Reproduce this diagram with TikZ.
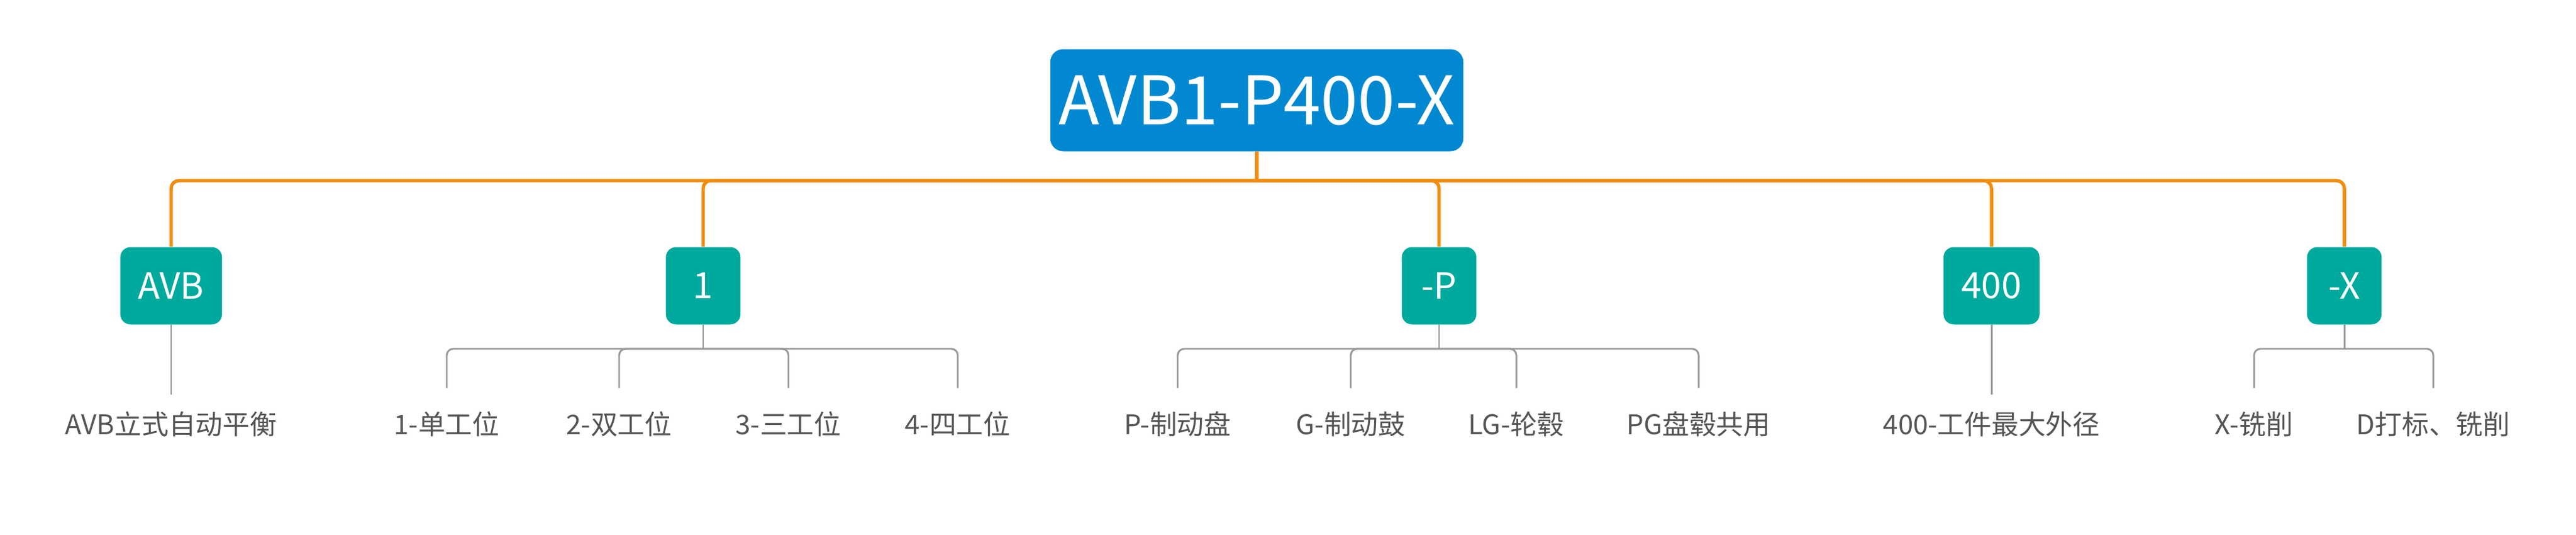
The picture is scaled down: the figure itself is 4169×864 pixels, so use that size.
\documentclass[tikz,border=0pt]{standalone}
\usepackage{fontspec}
\setmainfont{Noto Sans CJK SC}
\usetikzlibrary{positioning}
\definecolor{rootblue}{RGB}{2,136,209}
\definecolor{subteal}{RGB}{0,169,157}
\definecolor{busorange}{RGB}{242,140,15}
\definecolor{leafgrey}{RGB}{153,153,153}
\definecolor{leaftext}{RGB}{85,85,85}
\tikzset{
  rootbox/.style={fill=rootblue,text=white,rounded corners=5pt,minimum width=140pt,minimum height=39.6pt,font=\fontsize{26}{30}\selectfont},
  subbox/.style={fill=subteal,text=white,rounded corners=4pt,minimum width=29pt,minimum height=30pt,inner xsep=7pt,font=\fontsize{14}{17}\selectfont},
  leaf/.style={text=leaftext,anchor=center,inner sep=1pt,font=\fontsize{10.5}{13}\selectfont},
  busline/.style={draw=busorange,line width=1.3pt,rounded corners=3pt},
  leafline/.style={draw=leafgrey,line width=0.7pt,rounded corners=2.5pt}
}
\begin{document}
\begin{tikzpicture}[x=0.24pt,y=-0.24pt]
  \useasboundingbox (0,0) rectangle (4169,864);

  % root
  \node[rootbox] (root) at (2034,162) {AVB1-P400-X};
  \coordinate (bus) at (2034,292);

  % second level
  \node[subbox] (avb) at (277,462) {AVB};
  \node[subbox] (one) at (1138,462) {1};
  \node[subbox] (pp) at (2329,462) {-P};
  \node[subbox] (four) at (3223,462) {400};
  \node[subbox] (xx) at (3794,462) {-X};

  \draw[busline] (root.south) -- (bus);
  \foreach \c in {avb,one,pp,four,xx}
    \draw[busline] (bus) -| (\c.north);

  % leaves
  \node[leaf] (l1) at (277,686) {AVB立式自动平衡};
  \node[leaf] (l2) at (723,686) {1-单工位};
  \node[leaf] (l3) at (1002,686) {2-双工位};
  \node[leaf] (l4) at (1276,686) {3-三工位};
  \node[leaf] (l5) at (1550,686) {4-四工位};
  \node[leaf] (l6) at (1906,686) {P-制动盘};
  \node[leaf] (l7) at (2186,686) {G-制动鼓};
  \node[leaf] (l8) at (2454,686) {LG-轮毂};
  \node[leaf] (l9) at (2749,686) {PG盘毂共用};
  \node[leaf] (l10) at (3223,686) {400-工件最大外径};
  \node[leaf] (l11) at (3648,686) {X-铣削};
  \node[leaf] (l12) at (3938,686) {D打标、铣削};

  % leaf connectors
  \coordinate (ja) at (277,564);
  \coordinate (jb) at (1138,564);
  \coordinate (jc) at (2329,564);
  \coordinate (jd) at (3223,564);
  \coordinate (je) at (3794,564);
  \draw[leafline] (avb.south) -- (277,638);
  \draw[leafline] (four.south) -- (3223,638);
  \draw[leafline] (one.south) -- (jb);
  \foreach \l in {l2,l3,l4,l5}
    \draw[leafline] (jb) -| ([yshift=8pt]\l.north);
  \draw[leafline] (pp.south) -- (jc);
  \foreach \l in {l6,l7,l8,l9}
    \draw[leafline] (jc) -| ([yshift=8pt]\l.north);
  \draw[leafline] (xx.south) -- (je);
  \foreach \l in {l11,l12}
    \draw[leafline] (je) -| ([yshift=8pt]\l.north);
\end{tikzpicture}
\end{document}
